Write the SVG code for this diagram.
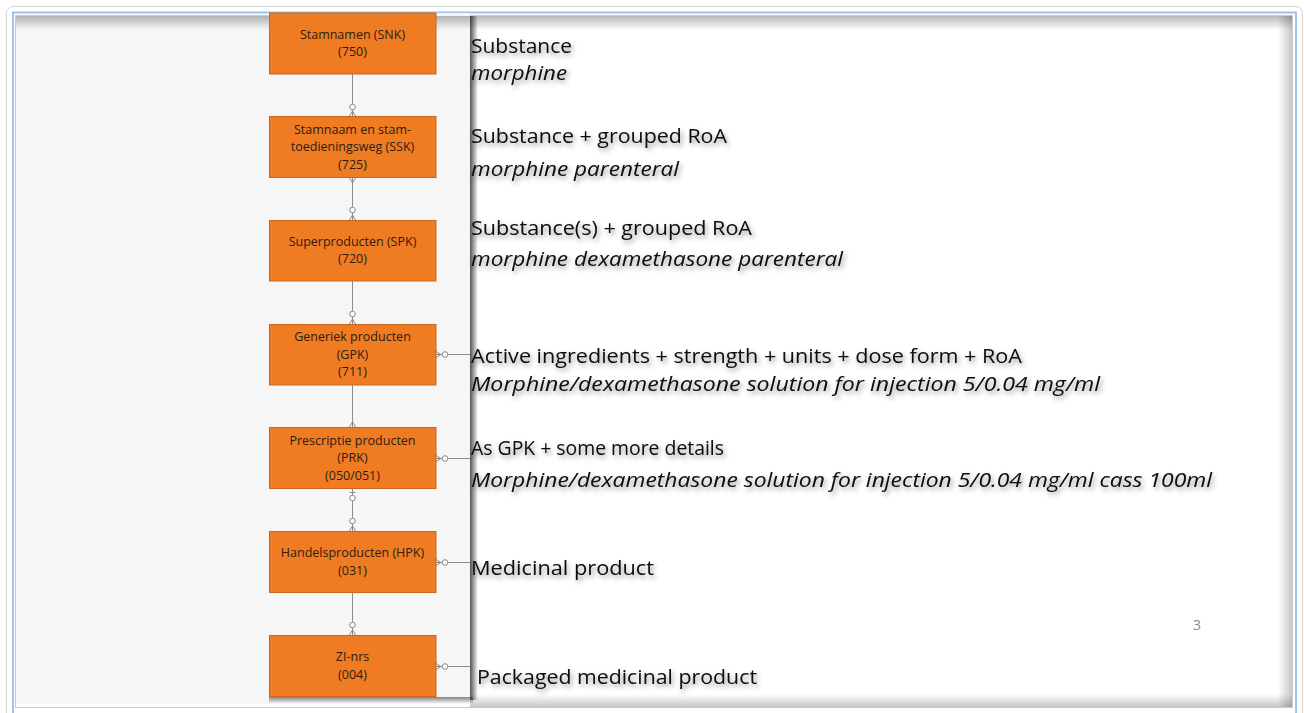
<svg xmlns="http://www.w3.org/2000/svg" width="1305" height="713" viewBox="0 0 1305 713">
<defs>
<style>
.box{fill:#ef7b22;stroke:#c8661d;stroke-width:1}
.bt{font-family:"Open Sans","Liberation Sans",sans-serif;font-size:12.5px;font-weight:500;fill:#2e1d11;text-anchor:middle}
.rt{font-family:"Open Sans","Liberation Sans",sans-serif;font-size:20px;fill:#0a0a0a}
.it{font-style:italic}
.ln{stroke:#8c8c8c;stroke-width:1;fill:none}
.ci{fill:#fafafa;stroke:#8c8c8c;stroke-width:1}
</style>
<filter id="sh" x="-10%" y="-50%" width="120%" height="200%">
<feDropShadow dx="2" dy="3" stdDeviation="2.5" flood-color="#000" flood-opacity="0.42"/>
</filter>
<linearGradient id="gTop" x1="0" y1="0" x2="0" y2="1">
<stop offset="0" stop-color="#000" stop-opacity="0.28"/>
<stop offset="1" stop-color="#000" stop-opacity="0"/>
</linearGradient>
<linearGradient id="gRight" x1="1" y1="0" x2="0" y2="0">
<stop offset="0" stop-color="#000" stop-opacity="0.22"/>
<stop offset="1" stop-color="#000" stop-opacity="0"/>
</linearGradient>
<linearGradient id="gBot" x1="0" y1="1" x2="0" y2="0">
<stop offset="0" stop-color="#000" stop-opacity="0.22"/>
<stop offset="1" stop-color="#000" stop-opacity="0"/>
</linearGradient>
<linearGradient id="gImgR" x1="0" y1="0" x2="1" y2="0">
<stop offset="0" stop-color="#333" stop-opacity="0.85"/>
<stop offset="1" stop-color="#333" stop-opacity="0"/>
</linearGradient>
<linearGradient id="gImgB" x1="0" y1="0" x2="0" y2="1">
<stop offset="0" stop-color="#333" stop-opacity="0.6"/>
<stop offset="1" stop-color="#333" stop-opacity="0"/>
</linearGradient>
</defs>

<g id="frame">
<rect x="0" y="0" width="1305" height="713" fill="#ffffff"/>
<rect x="6.5" y="6.5" width="1296" height="715" rx="7" fill="#ffffff" stroke="#d4d4d4"/>
<rect x="13" y="12.5" width="1283" height="712" fill="none" stroke="#9cc4ee" stroke-width="2"/>
<rect x="15.5" y="15.5" width="1277" height="692" fill="#ffffff" stroke="#c9c9c9"/>
</g>

<g id="panel">
<rect x="16" y="16" width="254" height="688" fill="#f6f6f6"/>
<rect x="269" y="13" width="201" height="684" fill="#f6f6f6"/>
<rect x="470" y="16" width="8" height="684" fill="url(#gImgR)"/>
<rect x="269" y="697" width="204" height="7" fill="url(#gImgB)"/>
</g>

<g id="insetShadow">
<rect x="16" y="16" width="1276" height="14" fill="url(#gTop)"/>
<rect x="1278" y="16" width="14" height="691" fill="url(#gRight)"/>
<rect x="470" y="694" width="822" height="13" fill="url(#gBot)"/>
</g>

<g id="connectors">
<line class="ln" x1="352.5" y1="74" x2="352.5" y2="116"/>
<circle class="ci" cx="352.5" cy="107" r="2.8"/>
<path class="ln" d="M349.5 116 L352.5 111 L355.5 116"/>

<line class="ln" x1="352.5" y1="178" x2="352.5" y2="220"/>
<path class="ln" d="M349.5 178 L352.5 183 L355.5 178"/>
<circle class="ci" cx="352.5" cy="210" r="2.8"/>
<path class="ln" d="M349.5 220 L352.5 215 L355.5 220"/>

<line class="ln" x1="352.5" y1="281" x2="352.5" y2="324"/>
<circle class="ci" cx="352.5" cy="314" r="2.8"/>
<path class="ln" d="M349.5 324 L352.5 319 L355.5 324"/>

<line class="ln" x1="352.5" y1="385" x2="352.5" y2="427"/>
<path class="ln" d="M349.5 427 L352.5 422 L355.5 427"/>

<line class="ln" x1="352.5" y1="489" x2="352.5" y2="531"/>
<line class="ln" x1="349.5" y1="492.5" x2="355.5" y2="492.5"/>
<circle class="ci" cx="352.5" cy="498" r="2.8"/>
<circle class="ci" cx="352.5" cy="521" r="2.8"/>
<path class="ln" d="M349.5 531 L352.5 526 L355.5 531"/>

<line class="ln" x1="352.5" y1="593" x2="352.5" y2="635"/>
<circle class="ci" cx="352.5" cy="625" r="2.8"/>
<path class="ln" d="M349.5 635 L352.5 630 L355.5 635"/>

<line class="ln" x1="436" y1="354.5" x2="470" y2="354.5"/>
<circle class="ci" cx="445" cy="354.5" r="2.8"/>
<path class="ln" d="M436 351.5 L441 354.5 L436 357.5"/>

<line class="ln" x1="436" y1="458.5" x2="470" y2="458.5"/>
<circle class="ci" cx="445" cy="458.5" r="2.8"/>
<path class="ln" d="M436 455.5 L441 458.5 L436 461.5"/>

<line class="ln" x1="436" y1="562.5" x2="470" y2="562.5"/>
<circle class="ci" cx="445" cy="562.5" r="2.8"/>
<path class="ln" d="M436 559.5 L441 562.5 L436 565.5"/>

<line class="ln" x1="436" y1="666.5" x2="470" y2="666.5"/>
<circle class="ci" cx="445" cy="666.5" r="2.8"/>
<path class="ln" d="M436 663.5 L441 666.5 L436 669.5"/>
</g>

<g id="snk">
<rect class="box" x="269.5" y="13" width="166.5" height="61"/>
<text class="bt" x="352.5" y="38.5">Stamnamen (SNK)</text>
<text class="bt" x="352.5" y="56">(750)</text>
</g>
<g id="ssk">
<rect class="box" x="269.5" y="116.5" width="166.5" height="61"/>
<text class="bt" x="352.5" y="133.5">Stamnaam en stam-</text>
<text class="bt" x="352.5" y="151">toedieningsweg (SSK)</text>
<text class="bt" x="352.5" y="168.5">(725)</text>
</g>
<g id="spk">
<rect class="box" x="269.5" y="220.5" width="166.5" height="60.5"/>
<text class="bt" x="352.5" y="245.5">Superproducten (SPK)</text>
<text class="bt" x="352.5" y="263">(720)</text>
</g>
<g id="gpk">
<rect class="box" x="269.5" y="324.5" width="166.5" height="60.5"/>
<text class="bt" x="352.5" y="341">Generiek producten</text>
<text class="bt" x="352.5" y="358.5">(GPK)</text>
<text class="bt" x="352.5" y="376">(711)</text>
</g>
<g id="prk">
<rect class="box" x="269.5" y="427.5" width="166.5" height="61"/>
<text class="bt" x="352.5" y="444.5">Prescriptie producten</text>
<text class="bt" x="352.5" y="462">(PRK)</text>
<text class="bt" x="352.5" y="479.5">(050/051)</text>
</g>
<g id="hpk">
<rect class="box" x="269.5" y="531.5" width="166.5" height="61"/>
<text class="bt" x="352.5" y="557">Handelsproducten (HPK)</text>
<text class="bt" x="352.5" y="574.5">(031)</text>
</g>
<g id="zi">
<rect class="box" x="269.5" y="635.5" width="166.5" height="61"/>
<text class="bt" x="352.5" y="661">ZI-nrs</text>
<text class="bt" x="352.5" y="678.5">(004)</text>
</g>

<g id="descriptions" filter="url(#sh)">
<text class="rt" x="471" y="53" textLength="101" lengthAdjust="spacingAndGlyphs">Substance</text>
<text class="rt it" x="471" y="80" textLength="96" lengthAdjust="spacingAndGlyphs">morphine</text>
<text class="rt" x="471" y="143" textLength="256" lengthAdjust="spacingAndGlyphs">Substance + grouped RoA</text>
<text class="rt it" x="471" y="176" textLength="208" lengthAdjust="spacingAndGlyphs">morphine parenteral</text>
<text class="rt" x="471" y="235" textLength="281" lengthAdjust="spacingAndGlyphs">Substance(s) + grouped RoA</text>
<text class="rt it" x="471" y="266" textLength="372" lengthAdjust="spacingAndGlyphs">morphine dexamethasone parenteral</text>
<text class="rt" x="471" y="363" textLength="551" lengthAdjust="spacingAndGlyphs">Active ingredients + strength + units + dose form + RoA</text>
<text class="rt it" x="471" y="391" textLength="629" lengthAdjust="spacingAndGlyphs">Morphine/dexamethasone solution for injection 5/0.04 mg/ml</text>
<text class="rt" x="471" y="455" textLength="253" lengthAdjust="spacingAndGlyphs">As GPK + some more details</text>
<text class="rt it" x="471" y="487" textLength="741" lengthAdjust="spacingAndGlyphs">Morphine/dexamethasone solution for injection 5/0.04 mg/ml cass 100ml</text>
<text class="rt" x="471" y="575" textLength="183" lengthAdjust="spacingAndGlyphs">Medicinal product</text>
<text class="rt" x="477" y="684" textLength="280" lengthAdjust="spacingAndGlyphs">Packaged medicinal product</text>
</g>

<g id="pagenum">
<text x="1197" y="630" font-family="Open Sans, Liberation Sans, sans-serif" font-size="14" fill="#8a8a8a" text-anchor="middle">3</text>
</g>
</svg>
